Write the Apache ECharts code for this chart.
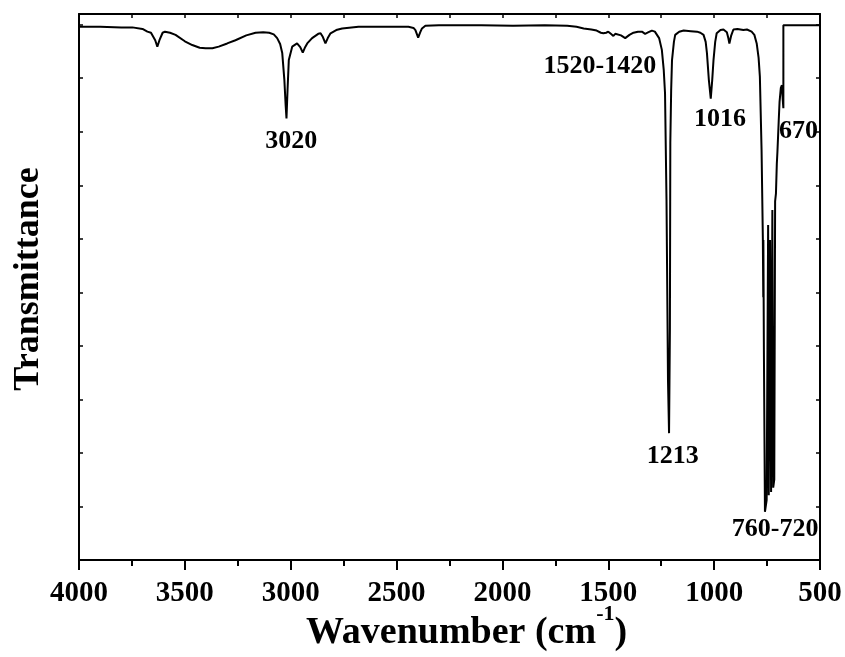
<!DOCTYPE html>
<html>
<head>
<meta charset="utf-8">
<script src="https://cdn.jsdelivr.net/npm/echarts@6/dist/echarts.min.js"></script>
<style>
  html, body { margin: 0; padding: 0; background: #fff; }
  #chart { width: 845px; height: 657px; }
</style>
</head>
<body>
<div id="chart"></div>
<script>
// Wavenumber (cm^-1) values of the traced spectrum
const wavenumbers = [
  4000, 3900, 3800, 3748, 3700, 3677, 3660, 3640, 3630, 3620, 3605, 3594, 3570, 3544, 3500, 3465, 3430, 3402, 3370, 3340,
  3300, 3261, 3210, 3166, 3130, 3102, 3080, 3064, 3050, 3040, 3030, 3024, 3020, 3015, 3009, 2993, 2970, 2955, 2943, 2932,
  2922, 2899, 2870, 2859, 2848, 2836, 2825, 2812, 2785, 2757, 2680, 2500, 2444, 2420, 2411, 2398, 2388, 2380, 2364, 2300,
  2247, 2100, 1950, 1800, 1694, 1650, 1616, 1580, 1555, 1535, 1523, 1510, 1500, 1488, 1476, 1467, 1459, 1440, 1420, 1400,
  1381, 1360, 1341, 1326, 1310, 1294, 1280, 1271, 1260, 1247, 1238, 1232, 1225, 1218, 1213, 1209, 1207, 1203, 1199, 1190,
  1184, 1165, 1144, 1110, 1081, 1065, 1050, 1040, 1034, 1025, 1016, 1009, 1003, 995, 988, 970, 956, 940, 933, 928,
  920, 909, 890, 862, 845, 823, 810, 799, 790, 784, 776, 770, 768, 767.5, 765, 760, 752, 745, 742, 736,
  731, 725, 721, 716, 712, 708, 704, 701, 695, 691, 685, 680, 676, 673, 673, 500
];
// Transmittance (arbitrary units) at each wavenumber
const transmittance = [
  99.6, 99.6, 99.5, 99.5, 99.2, 98.7, 98.5, 97.1, 95.9, 97.1, 98.5, 98.7, 98.5, 98.1, 96.9, 96.2, 95.7, 95.6, 95.6, 95.9,
  96.5, 97.1, 98.0, 98.5, 98.6, 98.5, 98.2, 97.5, 96.4, 94.7, 89.7, 85.0, 82.5, 87.8, 93.4, 95.9, 96.5, 95.8, 94.8, 95.8,
  96.5, 97.5, 98.3, 98.4, 97.7, 96.5, 97.5, 98.4, 99.0, 99.3, 99.6, 99.6, 99.6, 99.4, 99.0, 97.6, 98.6, 99.3, 99.8, 99.9,
  99.9, 99.9, 99.8, 99.9, 99.8, 99.6, 99.3, 99.1, 98.9, 98.5, 98.4, 98.5, 98.7, 98.3, 97.9, 98.3, 98.4, 98.0, 97.5, 98.1,
  98.5, 98.7, 98.7, 98.3, 98.6, 98.9, 98.7, 98.4, 97.5, 95.3, 91.5, 87.2, 67.3, 33.6, 23.7, 42.9, 77.9, 87.8, 93.4, 96.8,
  98.1, 98.7, 98.9, 98.8, 98.7, 98.5, 98.1, 96.8, 94.7, 89.7, 86.2, 89.7, 93.4, 96.8, 98.4, 99.0, 99.1, 98.6, 97.5, 96.5,
  97.9, 99.1, 99.2, 99.0, 99.1, 98.7, 98.1, 96.5, 93.8, 90.3, 76.6, 60.2, 49.1, 59.8, 39.2, 9.0, 11.2, 62.6, 12.1, 59.8,
  12.7, 65.4, 13.5, 15.0, 67.0, 68.5, 74.0, 76.3, 82.0, 85.6, 88.2, 88.7, 86.0, 84.4, 99.9, 99.9
];
// Peak annotations: text and position in data coordinates
const peakLabels = ['3020', '1520-1420', '1016', '670', '1213', '760-720'];
const peakLabelX = [2998, 1540, 972, 602, 1195, 712];
const peakLabelY = [78.3, 92.2, 82.3, 80.1, 19.4, 5.8];

const xTickLabels = ['4000', '3500', '3000', '2500', '2000', '1500', '1000', '500'];

const FONT = "'Liberation Serif', 'Times New Roman', serif";

const spectrum = wavenumbers.map((w, i) => [w, transmittance[i]]);
const annotations = peakLabels.map((t, i) => ({ name: t, value: [peakLabelX[i], peakLabelY[i]] }));

const chart = echarts.init(document.getElementById('chart'), null, { renderer: 'canvas' });

const axisLineStyle = { color: '#000', width: 2 };

chart.setOption({
  animation: false,
  backgroundColor: '#fff',
  grid: { left: 79, right: 25, top: 14, bottom: 97, containLabel: false, outerBoundsMode: 'none' },
  xAxis: [
    {
      type: 'value', position: 'bottom', min: 500, max: 4000, interval: 500, inverse: true,
      axisLine: { show: true, onZero: false, lineStyle: axisLineStyle },
      axisTick: { show: true, inside: false, length: 10, lineStyle: { color: '#000', width: 2 } },
      minorTick: { show: true, splitNumber: 2, length: 6, lineStyle: { color: '#000', width: 2 } },
      splitLine: { show: false },
      axisLabel: {
        show: true, margin: 19, color: '#000', fontSize: 29, fontWeight: 'bold', fontFamily: FONT,
        formatter: (v) => { const s = String(v); return xTickLabels.indexOf(s) >= 0 ? s : ''; }
      },
      name: 'Wavenumber (cm{sup|-1})',
      nameLocation: 'middle',
      nameGap: 43,
      nameMoveOverlap: false,
      nameTextStyle: {
        color: '#000', fontSize: 38, fontWeight: 'bold', fontFamily: FONT, padding: [0, 0, 0, 34],
        rich: {
          sup: { fontSize: 22, fontWeight: 'bold', fontFamily: FONT, color: '#000', verticalAlign: 'top', padding: [0, 0, 38, 0] }
        }
      }
    },
    {
      type: 'value', position: 'top', min: 500, max: 4000, interval: 250, inverse: true,
      axisLine: { show: true, onZero: false, lineStyle: axisLineStyle },
      axisTick: { show: true, inside: true, length: 4, lineStyle: { color: '#000', width: 1.5 } },
      axisLabel: { show: false },
      splitLine: { show: false }
    }
  ],
  yAxis: [
    {
      type: 'value', position: 'left', min: 0, max: 102, interval: 10,
      axisLine: { show: true, onZero: false, lineStyle: axisLineStyle },
      axisTick: { show: true, inside: true, length: 4, lineStyle: { color: '#000', width: 1.5 } },
      axisLabel: { show: false },
      splitLine: { show: false },
      name: 'Transmittance',
      nameLocation: 'middle',
      nameGap: 32,
      nameMoveOverlap: false,
      nameTextStyle: { color: '#000', fontSize: 36, fontWeight: 'bold', fontFamily: FONT, padding: [0, 0, 0, 16] }
    },
    {
      type: 'value', position: 'right', min: 0, max: 102, interval: 10,
      axisLine: { show: true, onZero: false, lineStyle: axisLineStyle },
      axisTick: { show: true, inside: true, length: 4, lineStyle: { color: '#000', width: 1.5 } },
      axisLabel: { show: false },
      splitLine: { show: false }
    }
  ],
  series: [
    {
      type: 'line', xAxisIndex: 0, yAxisIndex: 0, data: spectrum,
      showSymbol: false, symbol: 'none', smooth: false,
      lineStyle: { color: '#000', width: 2 },
      z: 3
    },
    {
      type: 'scatter', xAxisIndex: 0, yAxisIndex: 0, data: annotations,
      symbolSize: 0, silent: true,
      itemStyle: { opacity: 1, color: '#000' },
      label: {
        show: true, position: 'inside', formatter: (p) => p.name, opacity: 1,
        color: '#000', fontSize: 26, fontWeight: 'bold', fontFamily: FONT
      },
      z: 4
    }
  ]
});
</script>
</body>
</html>
